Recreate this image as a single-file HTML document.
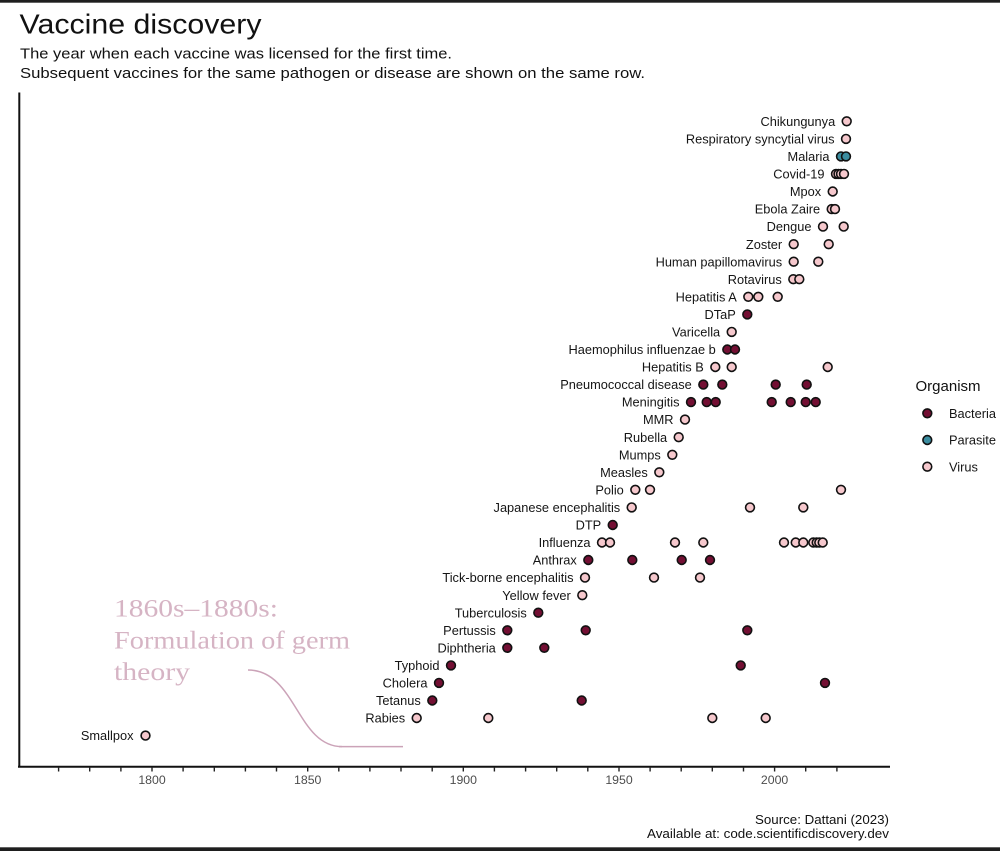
<!DOCTYPE html>
<html>
<head>
<meta charset="utf-8">
<style>
html,body{margin:0;padding:0;background:#fff;}
body{width:1000px;height:851px;overflow:hidden;}
svg{display:block;}
text{font-family:"Liberation Sans",Arial,sans-serif;}
</style>
</head>
<body>
<svg width="1000" height="851" viewBox="0 0 1000 851" xmlns="http://www.w3.org/2000/svg">
<rect x="0" y="0" width="1000" height="851" fill="#fff"/>
<rect x="0" y="0" width="1000" height="2.7" fill="#1e1e1e"/>
<rect x="0" y="847.3" width="1000" height="3.7" fill="#1e1e1e"/>

<!-- Title -->
<text x="19.5" y="33.5" font-size="27.5" fill="#111" textLength="242" lengthAdjust="spacingAndGlyphs">Vaccine discovery</text>
<text x="20" y="58.5" font-size="15" fill="#111" textLength="432" lengthAdjust="spacingAndGlyphs">The year when each vaccine was licensed for the first time.</text>
<text x="20" y="77.8" font-size="15" fill="#111" textLength="625" lengthAdjust="spacingAndGlyphs">Subsequent vaccines for the same pathogen or disease are shown on the same row.</text>

<!-- Axes -->
<line x1="19.3" y1="92.5" x2="19.3" y2="767.5" stroke="#111" stroke-width="2"/>
<line x1="18" y1="766.7" x2="890" y2="766.7" stroke="#111" stroke-width="2"/>
<g stroke="#222" stroke-width="1.4">
<line x1="58.6" y1="767" x2="58.6" y2="771.5"/>
<line x1="89.7" y1="767" x2="89.7" y2="771.5"/>
<line x1="120.9" y1="767" x2="120.9" y2="771.5"/>
<line x1="152.0" y1="767" x2="152.0" y2="771.5"/>
<line x1="183.1" y1="767" x2="183.1" y2="771.5"/>
<line x1="214.3" y1="767" x2="214.3" y2="771.5"/>
<line x1="245.4" y1="767" x2="245.4" y2="771.5"/>
<line x1="276.5" y1="767" x2="276.5" y2="771.5"/>
<line x1="307.7" y1="767" x2="307.7" y2="771.5"/>
<line x1="338.8" y1="767" x2="338.8" y2="771.5"/>
<line x1="369.9" y1="767" x2="369.9" y2="771.5"/>
<line x1="401.0" y1="767" x2="401.0" y2="771.5"/>
<line x1="432.2" y1="767" x2="432.2" y2="771.5"/>
<line x1="463.3" y1="767" x2="463.3" y2="771.5"/>
<line x1="494.4" y1="767" x2="494.4" y2="771.5"/>
<line x1="525.6" y1="767" x2="525.6" y2="771.5"/>
<line x1="556.7" y1="767" x2="556.7" y2="771.5"/>
<line x1="587.8" y1="767" x2="587.8" y2="771.5"/>
<line x1="619.0" y1="767" x2="619.0" y2="771.5"/>
<line x1="650.1" y1="767" x2="650.1" y2="771.5"/>
<line x1="681.2" y1="767" x2="681.2" y2="771.5"/>
<line x1="712.3" y1="767" x2="712.3" y2="771.5"/>
<line x1="743.5" y1="767" x2="743.5" y2="771.5"/>
<line x1="774.6" y1="767" x2="774.6" y2="771.5"/>
<line x1="805.7" y1="767" x2="805.7" y2="771.5"/>
<line x1="836.9" y1="767" x2="836.9" y2="771.5"/>
</g>
<g font-size="12.3" fill="#4d4d4d" text-anchor="middle">
<text x="152.0" y="784">1800</text>
<text x="307.7" y="784">1850</text>
<text x="463.3" y="784">1900</text>
<text x="619.0" y="784">1950</text>
<text x="774.6" y="784">2000</text>
</g>

<!-- Annotation -->
<g fill="#d6b4c4" font-size="25">
<text x="114" y="616.5" textLength="164" lengthAdjust="spacingAndGlyphs" style="font-family:'Liberation Serif',serif">1860s–1880s:</text>
<text x="114" y="648.3" textLength="236" lengthAdjust="spacingAndGlyphs" style="font-family:'Liberation Serif',serif">Formulation of germ</text>
<text x="114" y="680" textLength="76" lengthAdjust="spacingAndGlyphs" style="font-family:'Liberation Serif',serif">theory</text>
</g>
<path d="M248,670 C296,670 297,746.6 342,746.6" fill="none" stroke="#cba3b8" stroke-width="1.5"/>
<line x1="339" y1="746.6" x2="403" y2="746.6" stroke="#cba3b8" stroke-width="1.5"/>

<!-- Row labels -->
<g font-size="12.8" fill="#151515" text-anchor="end">
<text x="835.2" y="125.9">Chikungunya</text>
<text x="834.5" y="143.5">Respiratory syncytial virus</text>
<text x="829.5" y="161.0">Malaria</text>
<text x="824.5" y="178.5">Covid-19</text>
<text x="821.2" y="196.1">Mpox</text>
<text x="820.2" y="213.7">Ebola Zaire</text>
<text x="811.5" y="231.2">Dengue</text>
<text x="782.2" y="248.8">Zoster</text>
<text x="782.2" y="266.3">Human papillomavirus</text>
<text x="781.8" y="283.8">Rotavirus</text>
<text x="736.8" y="301.4">Hepatitis A</text>
<text x="735.8" y="319.0">DTaP</text>
<text x="720.2" y="336.5">Varicella</text>
<text x="715.8" y="354.1">Haemophilus influenzae b</text>
<text x="703.8" y="371.6">Hepatitis B</text>
<text x="691.8" y="389.2">Pneumococcal disease</text>
<text x="679.5" y="406.7">Meningitis</text>
<text x="673.5" y="424.2">MMR</text>
<text x="667.2" y="441.8">Rubella</text>
<text x="660.8" y="459.4">Mumps</text>
<text x="647.8" y="476.9">Measles</text>
<text x="623.8" y="494.4">Polio</text>
<text x="620.2" y="512.0">Japanese encephalitis</text>
<text x="601.2" y="529.6">DTP</text>
<text x="590.5" y="547.1">Influenza</text>
<text x="576.8" y="564.6">Anthrax</text>
<text x="573.5" y="582.2">Tick-borne encephalitis</text>
<text x="570.8" y="599.8">Yellow fever</text>
<text x="526.8" y="617.3">Tuberculosis</text>
<text x="495.8" y="634.9">Pertussis</text>
<text x="495.8" y="652.4">Diphtheria</text>
<text x="439.5" y="670.0">Typhoid</text>
<text x="427.5" y="687.5">Cholera</text>
<text x="420.8" y="705.1">Tetanus</text>
<text x="405.2" y="722.6">Rabies</text>
<text x="133.5" y="740.2">Smallpox</text>
</g>

<!-- Points -->
<g stroke="#111" stroke-width="1.6">
<g fill="#f6c8cd">
<circle cx="846.7" cy="121.3" r="4.4"/>
<circle cx="846.0" cy="138.9" r="4.4"/>
<circle cx="836.0" cy="173.9" r="4.4"/>
<circle cx="838.5" cy="173.9" r="4.4"/>
<circle cx="841.0" cy="173.9" r="4.4"/>
<circle cx="844.0" cy="173.9" r="4.4"/>
<circle cx="832.7" cy="191.5" r="4.4"/>
<circle cx="831.7" cy="209.1" r="4.4"/>
<circle cx="835.0" cy="209.1" r="4.4"/>
<circle cx="823.0" cy="226.6" r="4.4"/>
<circle cx="843.7" cy="226.6" r="4.4"/>
<circle cx="793.7" cy="244.2" r="4.4"/>
<circle cx="828.7" cy="244.2" r="4.4"/>
<circle cx="793.7" cy="261.7" r="4.4"/>
<circle cx="818.3" cy="261.7" r="4.4"/>
<circle cx="793.3" cy="279.2" r="4.4"/>
<circle cx="799.3" cy="279.2" r="4.4"/>
<circle cx="748.3" cy="296.8" r="4.4"/>
<circle cx="758.3" cy="296.8" r="4.4"/>
<circle cx="777.7" cy="296.8" r="4.4"/>
<circle cx="731.7" cy="331.9" r="4.4"/>
<circle cx="715.3" cy="367.0" r="4.4"/>
<circle cx="731.7" cy="367.0" r="4.4"/>
<circle cx="827.7" cy="367.0" r="4.4"/>
<circle cx="685.0" cy="419.6" r="4.4"/>
<circle cx="678.7" cy="437.2" r="4.4"/>
<circle cx="672.3" cy="454.8" r="4.4"/>
<circle cx="659.3" cy="472.3" r="4.4"/>
<circle cx="635.3" cy="489.8" r="4.4"/>
<circle cx="650.0" cy="489.8" r="4.4"/>
<circle cx="841.0" cy="489.8" r="4.4"/>
<circle cx="631.7" cy="507.4" r="4.4"/>
<circle cx="750.0" cy="507.4" r="4.4"/>
<circle cx="803.3" cy="507.4" r="4.4"/>
<circle cx="602.0" cy="542.5" r="4.4"/>
<circle cx="610.0" cy="542.5" r="4.4"/>
<circle cx="675.0" cy="542.5" r="4.4"/>
<circle cx="703.3" cy="542.5" r="4.4"/>
<circle cx="784.0" cy="542.5" r="4.4"/>
<circle cx="795.7" cy="542.5" r="4.4"/>
<circle cx="803.3" cy="542.5" r="4.4"/>
<circle cx="813.3" cy="542.5" r="4.4"/>
<circle cx="816.7" cy="542.5" r="4.4"/>
<circle cx="819.3" cy="542.5" r="4.4"/>
<circle cx="822.7" cy="542.5" r="4.4"/>
<circle cx="585.0" cy="577.6" r="4.4"/>
<circle cx="654.0" cy="577.6" r="4.4"/>
<circle cx="700.0" cy="577.6" r="4.4"/>
<circle cx="582.3" cy="595.2" r="4.4"/>
<circle cx="416.7" cy="718.0" r="4.4"/>
<circle cx="488.3" cy="718.0" r="4.4"/>
<circle cx="712.3" cy="718.0" r="4.4"/>
<circle cx="765.7" cy="718.0" r="4.4"/>
<circle cx="145.5" cy="735.6" r="4.4"/>
</g>
<g fill="#3b8da0">
<circle cx="841.0" cy="156.4" r="4.4"/>
<circle cx="846.0" cy="156.4" r="4.4"/>
</g>
<g fill="#730f33">
<circle cx="747.3" cy="314.4" r="4.4"/>
<circle cx="727.3" cy="349.5" r="4.4"/>
<circle cx="735.0" cy="349.5" r="4.4"/>
<circle cx="703.3" cy="384.6" r="4.4"/>
<circle cx="722.3" cy="384.6" r="4.4"/>
<circle cx="775.7" cy="384.6" r="4.4"/>
<circle cx="806.7" cy="384.6" r="4.4"/>
<circle cx="691.0" cy="402.1" r="4.4"/>
<circle cx="706.7" cy="402.1" r="4.4"/>
<circle cx="715.7" cy="402.1" r="4.4"/>
<circle cx="771.7" cy="402.1" r="4.4"/>
<circle cx="790.7" cy="402.1" r="4.4"/>
<circle cx="805.7" cy="402.1" r="4.4"/>
<circle cx="815.7" cy="402.1" r="4.4"/>
<circle cx="612.7" cy="525.0" r="4.4"/>
<circle cx="588.3" cy="560.0" r="4.4"/>
<circle cx="632.3" cy="560.0" r="4.4"/>
<circle cx="681.7" cy="560.0" r="4.4"/>
<circle cx="710.0" cy="560.0" r="4.4"/>
<circle cx="538.3" cy="612.7" r="4.4"/>
<circle cx="507.3" cy="630.3" r="4.4"/>
<circle cx="585.7" cy="630.3" r="4.4"/>
<circle cx="747.3" cy="630.3" r="4.4"/>
<circle cx="507.3" cy="647.8" r="4.4"/>
<circle cx="544.3" cy="647.8" r="4.4"/>
<circle cx="451.0" cy="665.4" r="4.4"/>
<circle cx="740.7" cy="665.4" r="4.4"/>
<circle cx="439.0" cy="682.9" r="4.4"/>
<circle cx="825.0" cy="682.9" r="4.4"/>
<circle cx="432.3" cy="700.5" r="4.4"/>
<circle cx="581.7" cy="700.5" r="4.4"/>
</g>
</g>

<!-- Legend -->
<text x="915.5" y="391" font-size="15" fill="#111">Organism</text>
<g stroke="#111" stroke-width="1.6">
<circle cx="927.3" cy="413.3" r="4.4" fill="#730f33"/>
<circle cx="927.3" cy="440" r="4.4" fill="#3b8da0"/>
<circle cx="927.3" cy="466.7" r="4.4" fill="#f6c8cd"/>
</g>
<g font-size="12.8" fill="#151515">
<text x="949" y="418">Bacteria</text>
<text x="949" y="444.7">Parasite</text>
<text x="949" y="471.3">Virus</text>
</g>

<!-- Source -->
<g font-size="12.5" fill="#111">
<text x="755" y="824" textLength="134" lengthAdjust="spacingAndGlyphs">Source: Dattani (2023)</text>
<text x="647" y="838" textLength="242" lengthAdjust="spacingAndGlyphs">Available at: code.scientificdiscovery.dev</text>
</g>
</svg>
</body>
</html>
